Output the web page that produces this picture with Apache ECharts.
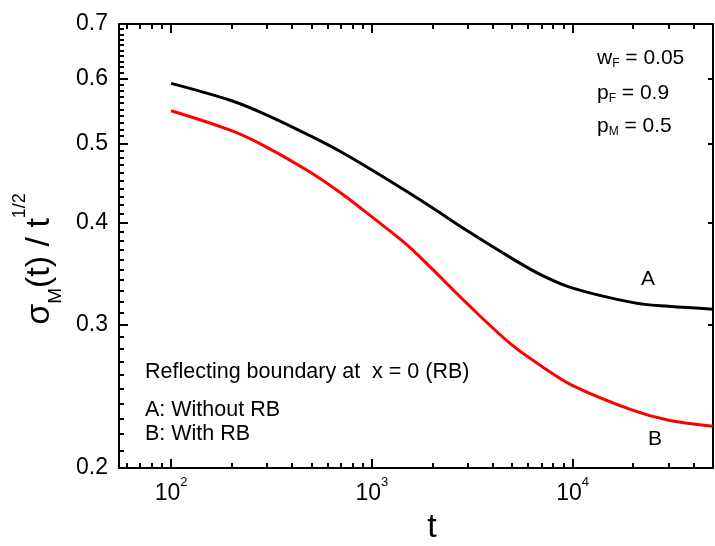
<!DOCTYPE html>
<html>
<head>
<meta charset="utf-8">
<script src="https://cdn.jsdelivr.net/npm/echarts@6/dist/echarts.min.js"></script>
<style>
  html, body { margin: 0; padding: 0; background: #fff; }
  #chart { width: 715px; height: 546px; }
</style>
</head>
<body>
<div id="chart"></div>
<script>
// data
var tValues = [100, 200, 300, 500, 700, 1000, 1500, 2000, 3000, 5000, 7000, 10000, 20000, 30000, 50000];
var sigmaA  = [0.592, 0.5637, 0.5414, 0.5097, 0.4881, 0.4636, 0.436, 0.4168, 0.3903, 0.3611, 0.3446, 0.3322, 0.3189, 0.3156, 0.3131];
var sigmaB  = [0.5481, 0.518, 0.4943, 0.4597, 0.4345, 0.4062, 0.3751, 0.3505, 0.3175, 0.2828, 0.2666, 0.2524, 0.2353, 0.2289, 0.225];

var xRange = [55, 50000];
var yRange = [0.2, 0.7];
var xMajor = [100, 1000, 10000];
var yMajor = [0.2, 0.3, 0.4, 0.5, 0.6, 0.7];

// minor ticks: 2..9 per decade on t, 0.01 steps on sigma
var xMinor = [];
[10, 100, 1000, 10000].forEach(function (d) {
  for (var k = 2; k <= 9; k++) {
    var v = k * d;
    if (v >= xRange[0] && v <= xRange[1] && xMajor.indexOf(v) < 0) xMinor.push(v);
  }
});
var yMinor = [];
for (var i = 21; i < 70; i++) {
  if (i % 10 !== 0) yMinor.push(i / 100);
}

var FONT = '"Liberation Sans", Arial, sans-serif';
var lg = Math.log10;

function toXY(vals) {
  return tValues.map(function (t, i) { return [lg(t), lg(vals[i])]; });
}

var chart = echarts.init(document.getElementById('chart'));

function xAxisCfg(pos, ticks, len, showLine, showLabel) {
  return {
    type: 'value',
    position: pos,
    min: lg(xRange[0]),
    max: lg(xRange[1]),
    splitLine: { show: false },
    axisLine: { show: showLine, onZero: false, lineStyle: { color: '#000', width: 2 } },
    axisTick: { show: true, inside: true, length: len, customValues: ticks.map(lg),
                lineStyle: { color: '#000', width: 2 } },
    axisLabel: {
      show: showLabel,
      customValues: showLabel ? ticks.map(lg) : undefined,
      margin: 8,
      formatter: function (v) { return '{b|10}{s|' + Math.round(v) + '}'; },
      rich: {
        b: { fontSize: 23, fontFamily: FONT, color: '#000' },
        s: { fontSize: 13, fontFamily: FONT, color: '#000', padding: [0, 0, 23, 0] }
      }
    }
  };
}

function yAxisCfg(pos, ticks, len, showLine, showLabel) {
  return {
    type: 'value',
    position: pos,
    min: lg(yRange[0]),
    max: lg(yRange[1]),
    splitLine: { show: false },
    axisLine: { show: showLine, onZero: false, lineStyle: { color: '#000', width: 2 } },
    axisTick: { show: true, inside: true, length: len, customValues: ticks.map(lg),
                lineStyle: { color: '#000', width: 2 } },
    axisLabel: {
      show: showLabel,
      customValues: showLabel ? ticks.map(lg) : undefined,
      margin: 11,
      fontSize: 23,
      fontFamily: FONT,
      color: '#000',
      formatter: function (v) { return Math.pow(10, v).toFixed(1); }
    }
  };
}

var xBottom = xAxisCfg('bottom', xMajor, 9, true, true);
xBottom.name = 't';
xBottom.nameLocation = 'middle';
xBottom.nameGap = 42;
xBottom.nameTextStyle = { fontSize: 34, fontFamily: FONT, color: '#000', padding: [0, 0, 0, 32] };

var yLeft = yAxisCfg('left', yMajor, 9, true, true);
yLeft.name = '{n|σ}{sub|M}{n|(t) / t}{sup|1/2}';
yLeft.nameLocation = 'middle';
yLeft.nameGap = 47;
yLeft.nameTextStyle = {
  padding: [0, 26, 0, 0],
  rich: {
    n: { fontSize: 34, fontFamily: FONT, color: '#000' },
    sub: { fontSize: 19, fontFamily: FONT, color: '#000', padding: [32, 0, 0, 0] },
    sup: { fontSize: 18, fontFamily: FONT, color: '#000', padding: [0, 0, 40, 0] }
  }
};

var annFont = { fontSize: 21, fontFamily: FONT, fill: '#000' };
var subFont = { fontSize: 12, fontFamily: FONT, fill: '#000', padding: [11, 0, 0, 0] };

function note(x, y, text, size) {
  return { type: 'text', x: x, y: y,
           style: { text: text, verticalAlign: 'middle', fontSize: size, fontFamily: FONT, fill: '#000' } };
}
function paramNote(x, y, text) {
  return { type: 'text', x: x, y: y,
           style: { text: text, verticalAlign: 'middle', rich: { m: annFont, s: subFont } } };
}

var option = {
  animation: false,
  backgroundColor: '#fff',
  grid: { left: 119, right: 2, top: 24, bottom: 78, containLabel: false, outerBoundsMode: 'none' },
  xAxis: [
    xBottom,
    xAxisCfg('bottom', xMinor, 5, false, false),
    xAxisCfg('top', xMajor, 9, true, false),
    xAxisCfg('top', xMinor, 5, false, false)
  ],
  yAxis: [
    yLeft,
    yAxisCfg('left', yMinor, 5, false, false),
    yAxisCfg('right', yMajor, 5, true, false)
  ],
  series: [
    {
      name: 'A', type: 'line', xAxisIndex: 0, yAxisIndex: 0,
      showSymbol: false, smooth: 0.35,
      lineStyle: { color: '#000', width: 3 }, itemStyle: { color: '#000' },
      data: toXY(sigmaA)
    },
    {
      name: 'B', type: 'line', xAxisIndex: 0, yAxisIndex: 0,
      showSymbol: false, smooth: 0.35,
      lineStyle: { color: '#ff0000', width: 3 }, itemStyle: { color: '#ff0000' },
      data: toXY(sigmaB)
    }
  ],
  graphic: [
    paramNote(597, 58, '{m|w}{s|F}{m| = 0.05}'),
    paramNote(597, 93, '{m|p}{s|F}{m| = 0.9}'),
    paramNote(597, 126, '{m|p}{s|M}{m| = 0.5}'),
    note(145, 372, 'Reflecting boundary at  x = 0 (RB)', 21.5),
    note(145, 410, 'A: Without RB', 21.5),
    note(145, 434, 'B: With RB', 21.5),
    { type: 'text', x: 648, y: 279, style: { text: 'A', align: 'center', verticalAlign: 'middle', fontSize: 21, fontFamily: FONT, fill: '#000' } },
    { type: 'text', x: 655, y: 439, style: { text: 'B', align: 'center', verticalAlign: 'middle', fontSize: 21, fontFamily: FONT, fill: '#000' } }
  ]
};

chart.setOption(option);
</script>
</body>
</html>
